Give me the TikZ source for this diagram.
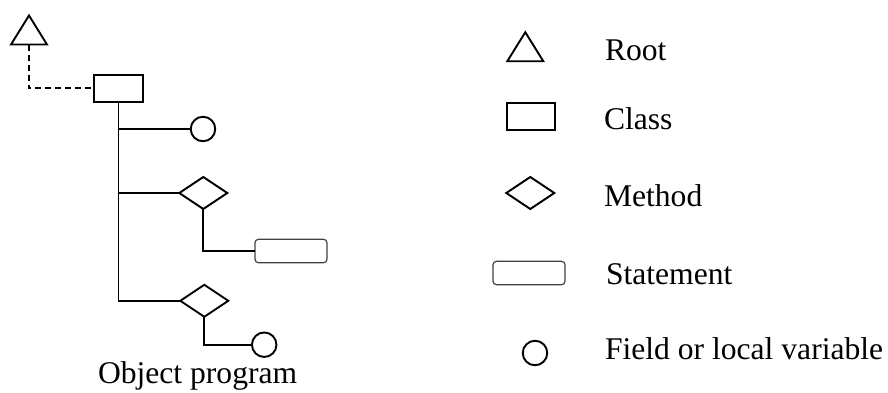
\documentclass[tikz,border=0pt]{standalone}
\usepackage{fontspec}
\setmainfont{Liberation Serif}
\usetikzlibrary{shapes.geometric}
\begin{document}
\begin{tikzpicture}[x=1pt,y=-1pt,
  every node/.style={inner sep=0pt, outer sep=0pt},
  shp/.style={draw=black, line width=1.9pt},
  roottri/.style={shp, isosceles triangle, isosceles triangle stretches,
    shape border rotate=90, minimum width=36pt, minimum height=29pt},
  classbox/.style={shp, rectangle, minimum width=48.5pt, minimum height=26.5pt},
  methodbox/.style={shp, diamond, minimum width=48pt, minimum height=32pt},
  stmtbox/.style={draw=black!75, line width=1.2pt, rectangle, rounded corners=3.5pt,
    minimum width=72pt, minimum height=23.5pt},
  varcirc/.style={shp, circle, minimum size=24.5pt},
  link/.style={line width=1.9pt},
  rootlink/.style={line width=1.9pt, dash pattern=on 6pt off 4pt},
  lbl/.style={anchor=base west, font=\fontsize{31.6}{38}\selectfont}
]
\useasboundingbox (0,0) rectangle (888,392);

% object program tree
\node[roottri]   (root) at (29,34.5)   {};
\node[classbox]  (cls)  at (118.5,88.3) {};
\node[varcirc]   (f1)   at (203,129)   {};
\node[methodbox] (m1)   at (203.3,193) {};
\node[stmtbox]   (st1)  at (291,251)   {};
\node[methodbox] (m2)   at (204.3,300.8) {};
\node[varcirc]   (f2)   at (264.2,344.7) {};

\draw[rootlink] (root.south) |- (cls.west);
\draw[link] (cls.south) |- (m2.west);
\draw[link] (cls.south |- f1.west) -- (f1.west);
\draw[link] (cls.south |- m1.west) -- (m1.west);
\draw[link] (m1.south) |- (st1.west);
\draw[link] (m2.south) |- (f2.west);

\node[lbl] (title) at (98,383.5) {Object program};

% legend
\node[roottri]   (kroot) at (525.3,51.2) {};
\node[classbox]  (kcls)  at (531,116.3)  {};
\node[methodbox] (kmeth) at (530.3,193)  {};
\node[stmtbox]   (kstmt) at (529,273)    {};
\node[varcirc]   (kvar)  at (535,353)    {};

\node[lbl] (troot) at (605,60.7)  {Root};
\node[lbl] (tcls)  at (604,129)   {Class};
\node[lbl] (tmeth) at (604,206.7) {Method};
\node[lbl] (tstmt) at (606,284.3) {Statement};
\node[lbl] (tvar)  at (605,359.3) {Field or local variable};
\end{tikzpicture}
\end{document}
